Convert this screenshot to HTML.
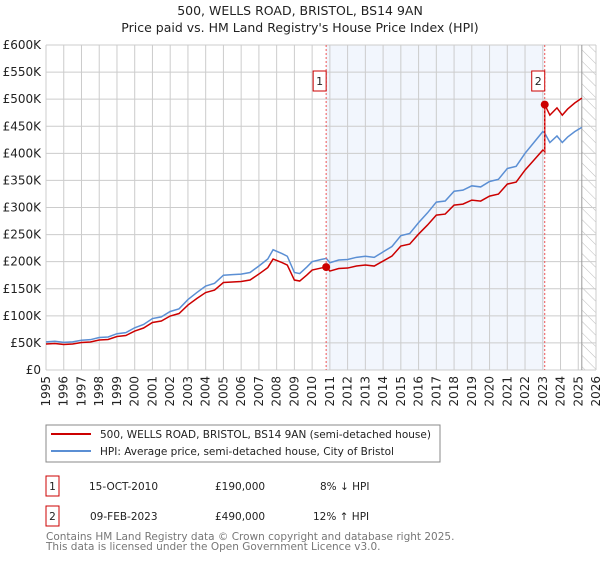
<!DOCTYPE html>
<html><head><meta charset="utf-8"><style>
body{margin:0;background:#fff;font-family:"Liberation Sans","DejaVu Sans",sans-serif;}
svg text{font-family:"DejaVu Sans","Liberation Sans",sans-serif;}
</style></head><body>
<svg id="c" width="600" height="560" viewBox="0 0 600 560">
<defs><pattern id="hatch" width="8" height="8" patternUnits="userSpaceOnUse" patternTransform="rotate(-45)"><rect width="8" height="8" fill="#fff"/><line x1="0" y1="0" x2="0" y2="8" stroke="#bbb" stroke-width="1"/></pattern></defs>
<text x="300" y="15" text-anchor="middle" font-size="12.5" fill="#222">500, WELLS ROAD, BRISTOL, BS14 9AN</text>
<text x="300" y="32" text-anchor="middle" font-size="12.5" fill="#222">Price paid vs. HM Land Registry's House Price Index (HPI)</text>
<g id="plot"></g>
<g>
<rect x="46" y="425" width="394" height="37" fill="#fff" stroke="#888"/>
<line x1="51" y1="434" x2="91" y2="434" stroke="#cc0000" stroke-width="2"/>
<text x="100" y="438" font-size="10.5" fill="#222">500, WELLS ROAD, BRISTOL, BS14 9AN (semi-detached house)</text>
<line x1="51" y1="451" x2="91" y2="451" stroke="#5b8fd4" stroke-width="2"/>
<text x="100" y="455" font-size="10.5" fill="#222">HPI: Average price, semi-detached house, City of Bristol</text>
</g>
<g font-size="10.5" fill="#222">
<rect x="46" y="476" width="13" height="20" fill="#fff" stroke="#cc0000"/>
<text x="52.5" y="490" text-anchor="middle">1</text>
<text x="89" y="490">15-OCT-2010</text>
<text x="215" y="490">£190,000</text>
<text x="320" y="490">8% ↓ HPI</text>
<rect x="46" y="506" width="13" height="20" fill="#fff" stroke="#cc0000"/>
<text x="52.5" y="520" text-anchor="middle">2</text>
<text x="90" y="520">09-FEB-2023</text>
<text x="215" y="520">£490,000</text>
<text x="313" y="520">12% ↑ HPI</text>
</g>
<text x="46" y="540" font-size="10.5" fill="#777">Contains HM Land Registry data © Crown copyright and database right 2025.</text>
<text x="46" y="550" font-size="10.5" fill="#777">This data is licensed under the Open Government Licence v3.0.</text>
</svg>
<script>
const hpiYears=[1995,1995.5,1996,1996.5,1997,1997.5,1998,1998.5,1999,1999.5,2000,2000.5,2001,2001.5,2002,2002.5,2003,2003.5,2004,2004.5,2005,2005.5,2006,2006.5,2007,2007.5,2007.8,2008.3,2008.6,2009,2009.3,2009.7,2010,2010.5,2010.8,2011,2011.5,2012,2012.5,2013,2013.5,2014,2014.5,2015,2015.5,2016,2016.5,2017,2017.5,2018,2018.5,2019,2019.5,2020,2020.5,2021,2021.5,2022,2022.5,2023,2023.1,2023.4,2023.8,2024.1,2024.4,2024.8,2025.2];
const hpiValues=[52,53,51,52,55,56,60,61,67,69,78,84,95,98,108,113,130,143,155,160,175,176,177,180,192,205,222,215,210,180,178,190,200,204,206,198,203,204,208,210,208,218,228,248,252,272,290,310,312,330,332,340,338,348,352,372,376,400,420,440,438,420,432,420,430,440,448];
const saleYears=[2010.79,2023.11];
const salePrices=[190,490];
const saleLabels=["1","2"];
const yTicks=[0,50,100,150,200,250,300,350,400,450,500,550,600];
const yTickLabels=["£0","£50K","£100K","£150K","£200K","£250K","£300K","£350K","£400K","£450K","£500K","£550K","£600K"];
const xTicks=[1995,1996,1997,1998,1999,2000,2001,2002,2003,2004,2005,2006,2007,2008,2009,2010,2011,2012,2013,2014,2015,2016,2017,2018,2019,2020,2021,2022,2023,2024,2025,2026];
const X0=46,X1=596,Y0=370,Y1=45;
const xs=y=>X0+(y-1995)/(2026-1995)*(X1-X0);
const ys=v=>Y0-v/600*(Y0-Y1);
const NS="http://www.w3.org/2000/svg";
const g=document.getElementById('plot');
function mk(t,a,p){const e=document.createElementNS(NS,t);for(const k in a)e.setAttribute(k,a[k]);(p||g).appendChild(e);return e;}
let e;
e=mk('rect',{x:X0,y:Y1,width:X1-X0,height:Y0-Y1,fill:'#fff'});


e=mk('rect',{x:xs(saleYears[0]),y:Y1,width:xs(saleYears[1])-xs(saleYears[0]),height:Y0-Y1,fill:'#f2f6fd'});


e=mk('rect',{x:xs(2025.2),y:Y1,width:X1-xs(2025.2),height:Y0-Y1,fill:'url(#hatch)'});


xTicks.forEach(t=>{
 e=mk('line',{x1:xs(t),x2:xs(t),y1:Y1,y2:Y0,stroke:'#cccccc','stroke-width':1});
 
 
 e=mk('text',{x:0,y:0,'font-size':12,fill:'#222','text-anchor':'end',transform:`translate(${xs(t)+4},${Y0+6}) rotate(-90)`});
 e.textContent=t;
 
 
});
yTicks.forEach((t,i)=>{
 e=mk('line',{x1:X0,x2:X1,y1:ys(t),y2:ys(t),stroke:'#cccccc','stroke-width':1});
 
 
 e=mk('text',{x:X0-5,y:ys(t)+4,'font-size':12,fill:'#222','text-anchor':'end'});
 e.textContent=yTickLabels[i];
 
 
});
e=mk('line',{x1:xs(2025.2),x2:xs(2025.2),y1:Y1,y2:Y0,stroke:'#999','stroke-width':1});


e=mk('polyline',{points:hpiYears.map((y,i)=>xs(y)+','+ys(hpiValues[i])).join(' '),fill:'none',stroke:'#5b8fd4','stroke-width':1.5});


function hpiAt(y){for(let i=1;i<hpiYears.length;i++){if(y<=hpiYears[i]){const f=(y-hpiYears[i-1])/(hpiYears[i]-hpiYears[i-1]);return hpiValues[i-1]+f*(hpiValues[i]-hpiValues[i-1]);}}return hpiValues[hpiValues.length-1];}
const r1=salePrices[0]/hpiAt(saleYears[0]),r2=salePrices[1]/hpiAt(saleYears[1]);
const pts=[];
hpiYears.forEach((y,i)=>{if(y<saleYears[1])pts.push([y,hpiValues[i]*r1]);});
pts.push([saleYears[1],hpiAt(saleYears[1])*r1]);
pts.push([saleYears[1],salePrices[1]]);
hpiYears.forEach((y,i)=>{if(y>saleYears[1])pts.push([y,hpiValues[i]*r2]);});
e=mk('polyline',{points:pts.map(p=>xs(p[0])+','+ys(p[1])).join(' '),fill:'none',stroke:'#cc0000','stroke-width':1.5});


saleYears.forEach((y,i)=>{
 e=mk('line',{x1:xs(y),x2:xs(y),y1:Y1,y2:Y0,stroke:'#ee5555','stroke-width':1,'stroke-dasharray':'2,2'});
 
 
 e=mk('circle',{cx:xs(y),cy:ys(salePrices[i]),r:4,fill:'#cc0000'});
 
 
 e=mk('rect',{x:xs(y)-13,y:71,width:13,height:20,fill:'#fff',stroke:'#cc0000'});
 
 
 e=mk('text',{x:xs(y)-6.5,y:85,'font-size':11,fill:'#222','text-anchor':'middle'});
 e.textContent=saleLabels[i];
 
 
});
</script>
</body></html>
